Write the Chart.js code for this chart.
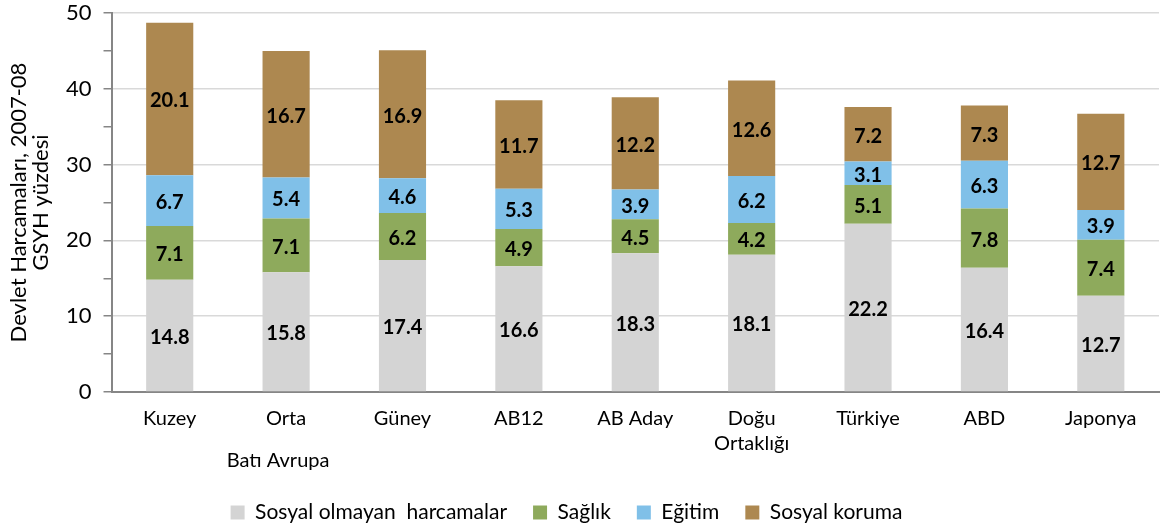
<!DOCTYPE html>
<html>
<head>
<meta charset="utf-8">
<script src="https://cdn.jsdelivr.net/npm/chart.js@4"></script>
<style>
html,body{margin:0;padding:0;background:#fff;}
#wrap{width:1160px;height:527px;position:relative;}
</style>
</head>
<body>
<div id="wrap"><canvas id="c"></canvas></div>
<script>
const categories = ['Kuzey', 'Orta', 'Güney', 'AB12', 'AB Aday', ['Doğu', 'Ortaklığı'], 'Türkiye', 'ABD', 'Japonya'];
const groupLabel = 'Batı Avrupa';
const seriesNames = ['Sosyal olmayan  harcamalar', 'Sağlık', 'Eğitim', 'Sosyal koruma'];
const nonSocial = [14.8, 15.8, 17.4, 16.6, 18.3, 18.1, 22.2, 16.4, 12.7];
const health    = [7.1, 7.1, 6.2, 4.9, 4.5, 4.2, 5.1, 7.8, 7.4];
const education = [6.7, 5.4, 4.6, 5.3, 3.9, 6.2, 3.1, 6.3, 3.9];
const social    = [20.1, 16.7, 16.9, 11.7, 12.2, 12.6, 7.2, 7.3, 12.7];
const colors = ['#d4d4d4', '#8eaa5c', '#80c0e8', '#ad8850'];
const yTitle = ['Devlet Harcamaları, 2007-08', 'GSYH yüzdesi'];

const FONT = 'Lato, "Open Sans", sans-serif';

const valueLabels = {
  id: 'valueLabels',
  afterDatasetsDraw(chart) {
    const ctx = chart.ctx;
    ctx.save();
    ctx.font = 'bold 20px ' + FONT;
    ctx.fillStyle = '#000';
    ctx.textAlign = 'center';
    ctx.textBaseline = 'middle';
    chart.data.datasets.forEach((ds, i) => {
      const meta = chart.getDatasetMeta(i);
      meta.data.forEach((el, j) => {
        const v = ds.data[j];
        ctx.fillText(v.toFixed(1), el.x, (el.y + el.base) / 2 + 2);
      });
    });
    ctx.restore();
  }
};

const groupText = {
  id: 'groupText',
  afterDraw(chart) {
    const xs = chart.scales.x;
    const ctx = chart.ctx;
    ctx.save();
    ctx.font = '20px ' + FONT;
    ctx.fillStyle = '#000';
    ctx.textAlign = 'center';
    ctx.textBaseline = 'middle';
    ctx.fillText(groupLabel, xs.getPixelForValue(1) - 8, xs.top + 69);
    ctx.restore();
  }
};

const legendShift = {
  id: 'legendShift',
  afterLayout(chart) {
    if (chart.legend) {
      chart.legend.left -= 17;
      chart.legend.right -= 17;
    }
  }
};

const data = [nonSocial, health, education, social];

new Chart(document.getElementById('c'), {
  type: 'bar',
  data: {
    labels: categories,
    datasets: seriesNames.map((n, i) => ({
      label: n,
      data: data[i],
      backgroundColor: colors[i],
      borderWidth: 0,
      barPercentage: 0.405,
      categoryPercentage: 1.0
    }))
  },
  options: {
    responsive: true,
    maintainAspectRatio: false,
    animation: false,
    layout: { padding: { top: 13, right: 1, left: 8, bottom: -6 } },
    plugins: {
      legend: {
        position: 'bottom',
        labels: {
          color: '#000',
          font: { family: FONT, size: 21 },
          boxWidth: 14,
          boxHeight: 14,
          padding: 26
        }
      },
      tooltip: { enabled: false }
    },
    scales: {
      x: {
        stacked: true,
        afterFit: (s) => { s.height += 6; },
        grid: { display: false, drawTicks: false },
        border: { color: '#868686', width: 2 },
        ticks: {
          color: '#000',
          font: { family: FONT, size: 20, lineHeight: 1.25 },
          padding: 14,
          maxRotation: 0
        }
      },
      y: {
        stacked: true,
        min: 0,
        max: 50,
        afterFit: (s) => { s.paddingTop = 0; },
        border: { color: '#868686', width: 2 },
        grid: {
          color: (c) => (c.tick && c.tick.value % 10 === 0 && c.tick.value !== 0) ? '#d9d9d9' : 'rgba(0,0,0,0)',
          lineWidth: 1.5,
          tickColor: '#868686',
          tickLength: 8,
          drawTicks: true
        },
        ticks: {
          stepSize: 5,
          color: '#000',
          font: { family: FONT, size: 22 },
          padding: 12,
          callback: (v) => (v % 10 === 0 ? v : '')
        },
        title: {
          display: true,
          text: yTitle,
          color: '#000',
          font: { family: FONT, size: 22, lineHeight: 1.0 },
          padding: { top: 0, bottom: 2 }
        }
      }
    }
  },
  plugins: [valueLabels, groupText, legendShift]
});
</script>
</body>
</html>
